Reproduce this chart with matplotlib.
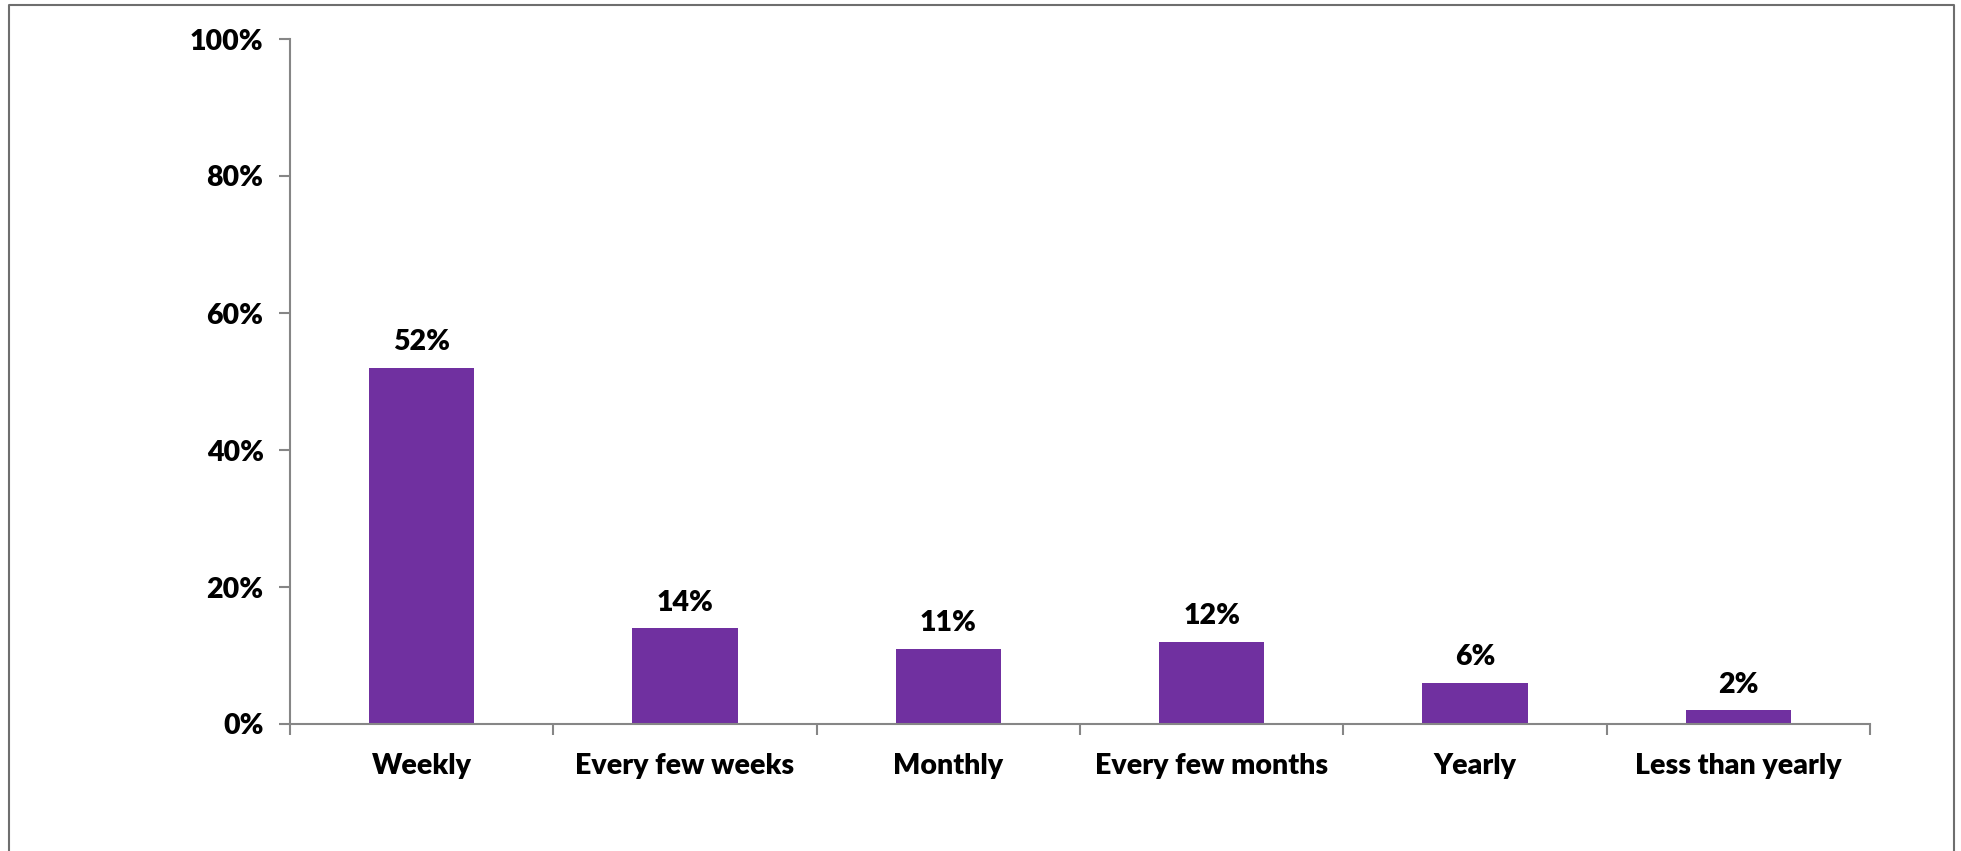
import numpy as np
import matplotlib.pyplot as plt
from matplotlib.lines import Line2D
from matplotlib.ticker import FixedLocator

categories = ['Weekly', 'Every few weeks', 'Monthly', 'Every few months', 'Yearly', 'Less than yearly']
values = [52, 14, 11, 12, 6, 2]
yticks = [0, 20, 40, 60, 80, 100]
ytick_labels = ['0%', '20%', '40%', '60%', '80%', '100%']

plt.rcParams['font.family'] = ['Lato', 'DejaVu Sans']
WT = 'heavy'
FS = 20.5

W, H = 1961, 851
fig = plt.figure(figsize=(W / 100, H / 100), dpi=100)
ax = fig.add_axes([290 / W, 1 - 724 / H, (1870 - 290) / W, (724 - 39) / H])

x = np.arange(len(categories))
bars = ax.bar(x, values, width=0.4, color='#7030A0')

for xi, v in zip(x, values):
    ax.annotate(f'{v}%', (xi, v), xytext=(0, 9), textcoords='offset points',
                ha='center', va='bottom', fontsize=FS, fontweight=WT)

ax.set_xlim(-0.5, len(categories) - 0.5)
ax.set_ylim(0, 100)
ax.set_yticks(yticks)
ax.set_yticklabels(ytick_labels, fontsize=FS, fontweight=WT)
ax.set_xticks(x)
ax.set_xticklabels(categories, fontsize=FS, fontweight=WT)
ax.tick_params(axis='x', length=0, pad=21)
ax.xaxis.set_minor_locator(FixedLocator(np.arange(len(categories) + 1) - 0.5))
ax.tick_params(axis='x', which='minor', length=8, width=1.5, color='#868686')
ax.tick_params(axis='y', length=8, width=1.5, color='#868686', pad=11)

for s in ['top', 'right']:
    ax.spines[s].set_visible(False)
for s in ['left', 'bottom']:
    ax.spines[s].set_color('#868686')
    ax.spines[s].set_linewidth(1.5)

# chart border (no bottom edge)
def px(xp, yp):
    return xp / W, 1 - yp / H
tl, tr = px(9, 5), px(1954, 5)
bl, br = px(9, H), px(1954, H)
fig.add_artist(Line2D([bl[0], tl[0], tr[0], br[0]], [bl[1], tl[1], tr[1], br[1]],
                      transform=fig.transFigure, color='#6e6e6e', lw=1.5))

fig.savefig('out.png', dpi=100)
